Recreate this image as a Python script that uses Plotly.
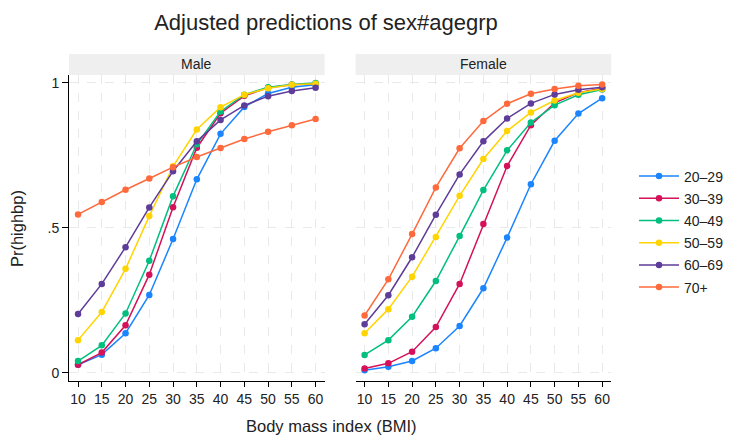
import plotly.graph_objects as go
from plotly.subplots import make_subplots

bmi = [10, 15, 20, 25, 30, 35, 40, 45, 50, 55, 60]
groups = ["20–29", "30–39", "40–49", "50–59", "60–69", "70+"]
colors = ["#1a85ff", "#d41159", "#00bf7f", "#ffd400", "#5e3c99", "#ff6a3d"]

male_20_29 = [0.027, 0.062, 0.136, 0.268, 0.461, 0.667, 0.824, 0.917, 0.963, 0.985, 0.993]
male_30_39 = [0.027, 0.069, 0.163, 0.338, 0.571, 0.776, 0.895, 0.955, 0.983, 0.993, 0.997]
male_40_49 = [0.040, 0.094, 0.204, 0.386, 0.609, 0.788, 0.901, 0.959, 0.985, 0.994, 0.999]
male_50_59 = [0.112, 0.209, 0.358, 0.540, 0.712, 0.839, 0.916, 0.959, 0.981, 0.993, 0.997]
male_60_69 = [0.202, 0.306, 0.433, 0.570, 0.695, 0.798, 0.872, 0.922, 0.954, 0.972, 0.983]
male_70 = [0.546, 0.589, 0.631, 0.670, 0.709, 0.744, 0.775, 0.806, 0.831, 0.854, 0.875]

female_20_29 = [0.008, 0.020, 0.040, 0.084, 0.161, 0.291, 0.466, 0.650, 0.800, 0.894, 0.947]
female_30_39 = [0.014, 0.032, 0.072, 0.157, 0.306, 0.513, 0.713, 0.854, 0.931, 0.966, 0.981]
female_40_49 = [0.061, 0.112, 0.193, 0.316, 0.471, 0.630, 0.767, 0.863, 0.923, 0.959, 0.977]
female_50_59 = [0.136, 0.219, 0.331, 0.468, 0.610, 0.737, 0.834, 0.898, 0.939, 0.966, 0.979]
female_60_69 = [0.167, 0.267, 0.398, 0.545, 0.684, 0.798, 0.877, 0.929, 0.960, 0.976, 0.985]
female_70 = [0.197, 0.322, 0.478, 0.639, 0.774, 0.868, 0.928, 0.962, 0.979, 0.990, 0.994]

male = [male_20_29, male_30_39, male_40_49, male_50_59, male_60_69, male_70]
female = [female_20_29, female_30_39, female_40_49, female_50_59, female_60_69, female_70]

x_ticks = bmi
y_tickvals = [0, 0.5, 1]
y_ticktext = ["0", ".5", "1"]

FONT = "Liberation Sans, Arial, sans-serif"

W, H = 729, 436
ML, MR, MT, MB = 69, 0, 75, 55
PW = W - ML - MR
PH = H - MT - MB


def px_x(p):
    return (p - ML) / PW


def px_y(p):
    return (H - MB - p) / PH


fig = make_subplots(rows=1, cols=2, shared_yaxes=False, horizontal_spacing=0.0)

for i, g in enumerate(groups):
    fig.add_trace(go.Scatter(x=bmi, y=male[i], mode="lines+markers", name=g,
                             legendgroup=g, showlegend=True,
                             line=dict(color=colors[i], width=1.5),
                             marker=dict(color=colors[i], size=6.5)), row=1, col=1)
for i, g in enumerate(groups):
    fig.add_trace(go.Scatter(x=bmi, y=female[i], mode="lines+markers", name=g,
                             legendgroup=g, showlegend=False,
                             line=dict(color=colors[i], width=1.5),
                             marker=dict(color=colors[i], size=6.5)), row=1, col=2)

left_dom = [px_x(69), px_x(325)]
right_dom = [px_x(356), px_x(612)]

grid = "#e9e9e9"
common_x = dict(range=[8.1, 61.9], tickmode="array", tickvals=x_ticks,
                showgrid=True, gridcolor=grid, griddash="dash", gridwidth=1,
                showline=True, linecolor="black", linewidth=1,
                ticks="outside", ticklen=5, tickcolor="black",
                tickfont=dict(size=14, color="#222"), zeroline=False)
fig.update_xaxes(**common_x)
fig.update_xaxes(domain=left_dom, row=1, col=1)
fig.update_xaxes(domain=right_dom, row=1, col=2)

common_y = dict(range=[-0.029, 1.027], tickmode="array", tickvals=y_tickvals,
                ticktext=y_ticktext, showgrid=True, gridcolor=grid,
                griddash="dash", gridwidth=1, zeroline=False,
                tickfont=dict(size=14, color="#222"))
fig.update_yaxes(**common_y)
fig.update_yaxes(showline=True, linecolor="black", linewidth=1,
                 ticks="outside", ticklen=6, tickcolor="black", row=1, col=1)
fig.update_yaxes(showline=False, showticklabels=False, ticks="", row=1, col=2)

strip_h = 21 / PH
for (dom, label) in [(left_dom, "Male"), (right_dom, "Female")]:
    x0, x1 = dom
    fig.add_shape(type="rect", xref="paper", yref="paper", x0=x0, x1=x1,
                  y0=1.0, y1=1.0 + strip_h, fillcolor="#efefef", line=dict(width=0),
                  layer="below")
    fig.add_annotation(text=label, xref="paper", yref="paper", x=(x0 + x1) / 2,
                       y=1.0 + strip_h / 2, showarrow=False, xanchor="center",
                       yanchor="middle", font=dict(size=14, color="#222", family=FONT))

fig.add_annotation(text="Body mass index (BMI)", xref="paper", yref="paper",
                   x=px_x(331.5), y=px_y(426), showarrow=False, xanchor="center",
                   yanchor="middle", font=dict(size=16.5, color="#222", family=FONT))
fig.add_annotation(text="Pr(highbp)", xref="paper", yref="paper",
                   x=px_x(17), y=px_y(229), showarrow=False, textangle=-90,
                   xanchor="center", yanchor="middle",
                   font=dict(size=16.5, color="#222", family=FONT))

fig.update_layout(
    width=W, height=H,
    margin=dict(l=ML, r=MR, t=MT, b=MB),
    paper_bgcolor="white", plot_bgcolor="white",
    font=dict(family=FONT, color="#222"),
    title=dict(text="Adjusted predictions of sex#agegrp", x=px_x(326.4), xref="paper",
               xanchor="center", y=1 - 22 / H, yanchor="middle", yref="container",
               font=dict(size=22, color="#222", family=FONT)),
    legend=dict(x=px_x(635), xanchor="left", y=px_y(160.5), yanchor="top",
                font=dict(size=14, color="#222"), tracegroupgap=1,
                itemwidth=40,
                traceorder="grouped", bgcolor="rgba(0,0,0,0)"),
)

fig.write_html("out.html", config={"displayModeBar": False},
               post_script="document.body.style.margin='0';document.body.style.overflow='hidden';")
